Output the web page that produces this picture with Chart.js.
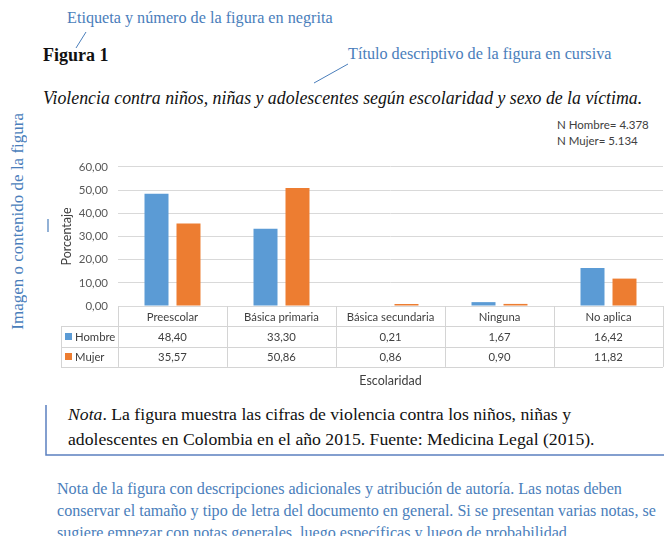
<!DOCTYPE html>
<html lang="es">
<head>
<meta charset="utf-8">
<title>Figura 1</title>
<script src="https://cdn.jsdelivr.net/npm/chart.js@4"></script>
<style>
  html, body { margin: 0; padding: 0; background: #fff; }
  body { width: 664px; height: 536px; overflow: hidden; position: relative; font-family: "Liberation Serif", "Times New Roman", serif; }
  .abs { position: absolute; white-space: nowrap; }
  .blue { color: #4a7ebb; }
  #chartWrap { position: absolute; left: 0; top: 150px; width: 664px; height: 240px; }
  svg { position: absolute; left: 0; top: 0; }
</style>
</head>
<body>

<div class="abs blue" style="left:67px; top:9px; font-size:16.2px; line-height:18px;">Etiqueta y número de la figura en negrita</div>
<div class="abs" style="left:43px; top:45px; font-size:18px; line-height:20px; font-weight:bold; color:#111;">Figura 1</div>
<div class="abs blue" style="left:348px; top:45px; font-size:16.2px; line-height:18px;">Título descriptivo de la figura en cursiva</div>
<div class="abs" style="left:43px; top:88px; font-size:17.8px; line-height:20px; font-style:italic; color:#111;">Violencia contra niños, niñas y adolescentes según escolaridad y sexo de la víctima.</div>

<div class="abs blue" id="sideLabel" style="left:9px; top:113px; font-size:17px; line-height:18px; writing-mode:vertical-rl; transform:rotate(180deg);">Imagen o contenido de la figura</div>

<div class="abs" id="nLabels" style="left:557px; top:117px; font-family:Lato, sans-serif; font-size:11.5px; line-height:16px; color:#404040;"></div>

<div id="chartWrap"><canvas id="chart" width="664" height="240"></canvas></div>

<div class="abs" style="left:68px; top:402px; font-size:17.7px; line-height:25px; color:#111;">
  <i>Nota</i>. La figura muestra las cifras de violencia contra los niños, niñas y<br>
  adolescentes en Colombia en el año 2015. Fuente: Medicina Legal (2015).
</div>

<div class="abs blue" style="left:57px; top:478px; font-size:16.1px; line-height:22px;">
  Nota de la figura con descripciones adicionales y atribución de autoría. Las notas deben<br>
  conservar el tamaño y tipo de letra del documento en general. Si se presentan varias notas, se<br>
  sugiere empezar con notas generales, luego específicas y luego de probabilidad.
</div>

<svg width="664" height="536">
  <line x1="86" y1="32" x2="76" y2="48" stroke="#4a7ebb" stroke-width="1"/>
  <line x1="348" y1="64" x2="314" y2="83" stroke="#4a7ebb" stroke-width="1"/>
  <line x1="48" y1="219" x2="48" y2="232" stroke="#4a7ebb" stroke-width="1.2"/>
  <polyline points="46,405 46,455 664,455" fill="none" stroke="#5b80c0" stroke-width="1.5"/>
</svg>

<script>
// --- data ---
const categories = ["Preescolar", "Básica primaria", "Básica secundaria", "Ninguna", "No aplica"];
const hombre = [48.40, 33.30, 0.21, 1.67, 16.42];
const mujer = [35.57, 50.86, 0.86, 0.90, 11.82];
const seriesNames = ["Hombre", "Mujer"];
const nTotals = ["N Hombre= 4.378", "N Mujer= 5.134"];
const yMin = 0, yMax = 60, yStep = 10;

const colors = ["#5b9bd5", "#ed7d31"];
const fmtComma = (v) => Number(v).toFixed(2).replace(".", ",");

document.getElementById("nLabels").innerHTML = nTotals.join("<br>");

// draws the Excel-style data table under the plot, aligned on the x scale
const tablePlugin = {
  id: "dataTable",
  afterDraw(chart) {
    const { ctx, chartArea: a, scales: { x } } = chart;
    const rowH = 20.3;
    const top = a.bottom;
    const half = (x.getPixelForValue(1) - x.getPixelForValue(0)) / 2;
    const legendLeft = 61;
    const rows = [hombre, mujer];

    ctx.save();
    ctx.strokeStyle = "#d4d4d4";
    ctx.lineWidth = 1;
    ctx.beginPath();
    // horizontal rules
    for (let r = 1; r <= 3; r++) {
      const y = Math.round(top + r * rowH) + 0.5;
      ctx.moveTo(legendLeft, y);
      ctx.lineTo(a.right, y);
    }
    // vertical rules at category boundaries
    for (let i = 0; i <= categories.length; i++) {
      const xx = Math.round(x.getPixelForValue(i) - half) + 0.5;
      ctx.moveTo(xx, top);
      ctx.lineTo(xx, top + 3 * rowH);
    }
    ctx.moveTo(legendLeft + 0.5, Math.round(top + rowH));
    ctx.lineTo(legendLeft + 0.5, Math.round(top + 3 * rowH));
    ctx.stroke();

    ctx.font = "11.3px Lato, sans-serif";
    ctx.fillStyle = "#404040";
    ctx.textAlign = "center";
    ctx.textBaseline = "middle";
    categories.forEach((c, i) => {
      const cx = x.getPixelForValue(i);
      ctx.fillText(c, cx, top + rowH / 2 + 1);
      rows.forEach((vals, r) => {
        ctx.fillText(fmtComma(vals[i]), cx, top + (r + 1.5) * rowH + 1);
      });
    });

    // legend keys in the first column
    ctx.textAlign = "left";
    seriesNames.forEach((name, r) => {
      const cy = top + (r + 1.5) * rowH;
      ctx.fillStyle = colors[r];
      ctx.fillRect(legendLeft + 4, Math.round(cy - 3.5), 7, 7);
      ctx.fillStyle = "#404040";
      ctx.fillText(name, legendLeft + 14, cy + 1);
    });

    // axis title
    ctx.font = "12.5px Lato, sans-serif";
    ctx.textAlign = "center";
    ctx.fillText("Escolaridad", (a.left + a.right) / 2, top + 3 * rowH + 14);
    ctx.restore();
  }
};

new Chart(document.getElementById("chart"), {
  type: "bar",
  data: {
    labels: categories,
    datasets: [
      { label: seriesNames[0], data: hombre, backgroundColor: colors[0], borderWidth: 0 },
      { label: seriesNames[1], data: mujer, backgroundColor: colors[1], borderWidth: 0 }
    ]
  },
  options: {
    responsive: false,
    animation: false,
    devicePixelRatio: 1,
    categoryPercentage: 0.587,
    barPercentage: 0.75,
    layout: { padding: { left: 55, right: 1, top: 13, bottom: 84 } },
    plugins: { legend: { display: false }, tooltip: { enabled: false } },
    scales: {
      x: { display: false },
      y: {
        min: yMin,
        max: yMax,
        border: { display: false },
        grid: { color: "#d9d9d9", drawTicks: false },
        ticks: {
          stepSize: yStep,
          padding: 10,
          color: "#595959",
          font: { family: "Lato", size: 11.5 },
          callback: (v) => fmtComma(v)
        },
        title: {
          display: true,
          text: "Porcentaje",
          color: "#404040",
          font: { family: "Lato", size: 12.5 }
        },
        afterFit: (scale) => { scale.width = 63; }
      }
    }
  },
  plugins: [tablePlugin]
});
</script>
</body>
</html>
